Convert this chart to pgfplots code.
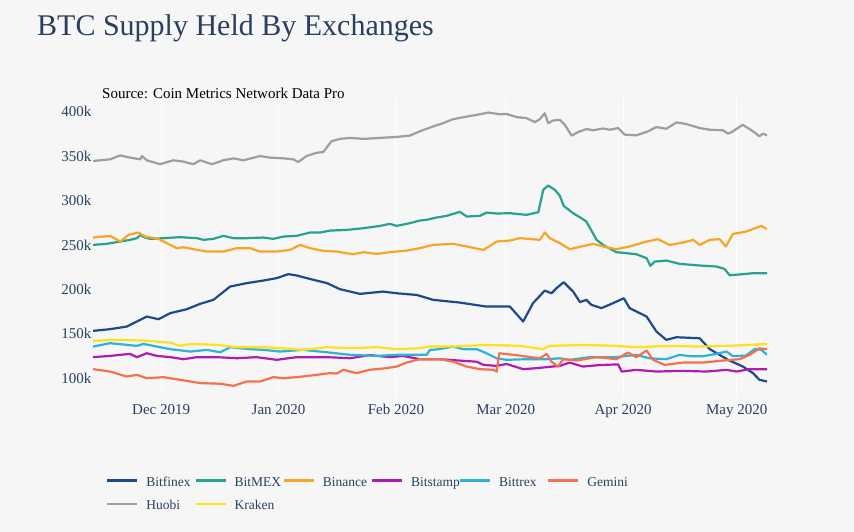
\documentclass[border=0pt]{standalone}
\usepackage{fontspec}
\setmainfont{Liberation Serif}
\usepackage{pgfplots}
\pgfplotsset{compat=1.18}

\definecolor{bgcol}{HTML}{F6F6F6}
\definecolor{txtcol}{HTML}{2A3F5F}
\definecolor{cBitfinex}{HTML}{1D4A8C}
\definecolor{cBitMEX}{HTML}{25A38E}
\definecolor{cBinance}{HTML}{F7A623}
\definecolor{cBitstamp}{HTML}{AD1DB2}
\definecolor{cBittrex}{HTML}{2DB3D8}
\definecolor{cGemini}{HTML}{F5714E}
\definecolor{cHuobi}{HTML}{9E9E9E}
\definecolor{cKraken}{HTML}{FFE01B}

\newcommand{\lab}[1]{\makebox[48bp][l]{\strut #1}}

\begin{document}
\begin{tikzpicture}[x=1bp,y=1bp]
\fill[bgcol] (0,0) rectangle (854,532);

% x = days since 1 Dec 2019, y = thousand BTC
\begin{axis}[
    at={(93bp,136bp)}, anchor=south west,
    scale only axis, width=674bp, height=298.6bp,
    xmin=-18, xmax=160, ymin=80, ymax=416,
    axis line style={draw=none}, major tick length=0pt,
    xtick={0,31,62,91,122,152},
    xticklabels={Dec 2019,Jan 2020,Feb 2020,Mar 2020,Apr 2020,May 2020},
    ytick={100,150,200,250,300,350,400},
    yticklabels={100k,150k,200k,250k,300k,350k,400k},
    xmajorgrids, major grid style={white, line width=1bp},
    tick label style={font=\fontsize{15bp}{18bp}\selectfont, text=txtcol, inner sep=0pt},
    xticklabel style={anchor=north, yshift=-8bp},
    yticklabel style={anchor=east, xshift=-1.5bp},
    every axis plot/.append style={line width=2.2bp, line join=round, no markers},
    legend columns=6,
    legend image code/.code={\draw[#1] (0bp,0bp) -- (30bp,0bp);},
    legend style={draw=none, fill=none, inner sep=0pt,
        at={(axis description cs:0.0193,-0.259)}, anchor=north west,
        font=\fontsize{13.5bp}{18bp}\selectfont, text=txtcol,
        nodes={inner sep=0pt}, row sep=9bp,
        /tikz/every odd column/.append style={column sep=8bp}},
    legend cell align=left,
]
\addplot[cBitfinex] coordinates {
(-18,153.3) (-13.5,155.2) (-9.1,158.1) (-6.4,163.8) (-3.8,169.4) (-0.7,166.4)
(2.4,173.2) (6.8,177.7) (10.3,183.7) (13.8,188.2) (18.2,203.1) (22.6,207)
(27,209.9) (30.5,212.6) (33.6,217.1) (35.8,215.6) (40.2,210.7) (43.8,207)
(47.2,200.2) (52.5,194.9) (58.6,197.5) (62.2,195.6) (67.5,193.7) (71.8,188.2)
(78.9,185.1) (85.9,180.6) (92.1,180.6) (95.6,163.8) (98.2,184.4) (101.3,198.6)
(103.1,195.6) (104.4,201.3) (106.3,208) (108.8,197.5) (110.6,185.6) (112.3,188.2)
(113.6,182.6) (116.3,178.9) (119.3,184.4) (122.2,190) (123.7,178.9) (128.2,169.4)
(130.8,152.5) (133.4,143.2) (136.1,146.1) (142.2,145) (144.9,132.7) (149.7,120.7)
(153.6,113.2) (156.3,105.7) (158,98.2) (160,96.3)
};
\addlegendentry{\lab{Bitfinex}}
\addplot[cBitMEX] coordinates {
(-18,250) (-14.4,251.2) (-10.8,253.8) (-8.2,255.7) (-6.4,257.6) (-5.5,261)
(-4.2,258.3) (-2.9,256.8) (0.6,257.6) (5,258.7) (9.4,257.6) (11.2,255.7)
(13.8,256.8) (16.4,260.2) (19.1,257.6) (22.6,257.6) (27,258.3) (29.6,256.8)
(32.3,259.4) (35.8,260.2) (39.3,263.9) (42,263.9) (44.6,266.1) (49,266.9)
(53.4,268.8) (57.8,271.4) (60.4,273.7) (62.2,271.4) (65.7,274.5) (68.3,277.4)
(70.1,278.2) (72.7,280.8) (75.4,282.7) (77.1,284.9) (78.9,287.2) (80.7,281.9)
(84.2,282.7) (85.9,286.4) (88.6,285.3) (92.1,285.7) (96.5,283.8) (99.6,286.8)
(100.9,311.9) (102.2,316.8) (104,311.9) (105.3,305.2) (106.3,293.9) (108.8,285.7)
(111,280) (112.3,276.2) (115,255.7) (116.7,250) (120.2,241.8) (122.9,240.7)
(125.5,239.5) (128.2,235.1) (129.2,226.4) (130.3,231.2) (133.4,232.4) (136.9,228.7)
(142.2,226.8) (146.6,225.7) (148.8,223) (150.1,215.9) (153.6,217) (156.3,218.2)
(160,218.2)
};
\addlegendentry{\lab{BitMEX}}
\addplot[cBinance] coordinates {
(-18,258.3) (-13.5,260.2) (-10.8,253.8) (-8.6,261.3) (-6,263.9) (-4.2,259.4)
(-0.7,256.8) (2.4,250) (4.1,246.3) (5.9,247.4) (8.5,245.2) (12.1,242.5)
(16.4,242.5) (20,246.3) (23.5,246.3) (26.1,242.5) (30.5,242.5) (34,244.4)
(36.7,250) (39.3,246.3) (42.8,243.3) (46.4,242.5) (50.7,239.5) (53.4,241.8)
(56.9,239.9) (60.4,241.8) (64.8,243.6) (68.3,246.3) (71.8,250) (77.1,251.2)
(80.7,248.2) (85.1,244.4) (88.6,253.8) (92.1,254.9) (94.7,257.6) (100,255.7)
(101.3,263.9) (102.6,257.6) (105.3,252) (107.9,245.2) (111,248.2) (114.1,251.2)
(116.7,248.2) (120.2,245.2) (123.7,248.2) (128.2,253.8) (131.2,256.4) (134.3,250)
(137.8,252.6) (140.5,255.7) (142.2,250) (144.9,255.7) (147.5,256.4) (149.1,248.2)
(151,262.4) (154.5,265) (158.5,271.4) (160,267.7)
};
\addlegendentry{\lab{Binance}}
\addplot[cBitstamp] coordinates {
(-18,123.7) (-13.5,125.1) (-8.2,127.4) (-6.4,123.7) (-3.8,128.1) (-1.1,125.1)
(2.4,123.7) (5.9,121.4) (9.4,123.7) (14.7,123.7) (20,122.5) (25.2,123.7)
(30.5,120.7) (35.8,123.7) (43.8,123.7) (49.9,122.5) (55.1,126) (60.4,123.7)
(63.9,125.1) (68.3,121.4) (73.6,121.4) (78.9,119.8) (83.3,118.6) (85.1,115)
(88.6,113.9) (91.2,116) (95.6,110.2) (99.1,111.3) (103.5,113.2) (105.3,113.9)
(107.9,117.6) (111.4,113.1) (115.8,114.8) (120.7,115.6) (121.6,107.5) (125.5,109.4)
(130.8,107.5) (137.8,108.3) (144,107.5) (149.3,109.4) (151.9,107.5) (155.4,110.2)
(160,110.2)
};
\addlegendentry{\lab{Bitstamp}}
\addplot[cBittrex] coordinates {
(-18,135.6) (-13.5,139.4) (-6.4,136.4) (-4.7,138.6) (2.4,132.7) (7.7,130)
(12.1,131.9) (15.6,129.2) (18.2,134.9) (23.5,132.7) (27,131.9) (31.4,130)
(37.4,131.9) (43.8,129.2) (49.9,126.3) (56.9,125.1) (62.2,126.3) (66.6,126.5)
(70.1,126.3) (71,131.9) (72.7,132.3) (77.1,135.6) (79.8,132.7) (83.3,132.7)
(85.9,128.1) (88.6,122.4) (91.2,120.7) (96.5,121.4) (101.8,121.4) (105.3,122.4)
(107.9,120.7) (113.2,123.7) (120.2,123.7) (125.5,126.3) (129,122.4) (133.4,121.4)
(136.9,126.3) (139.6,124.8) (143.1,124.8) (146.6,127.4) (149.3,130) (151,124.8)
(154.5,125.5) (156.7,132.7) (158.5,132) (160,126.3)
};
\addlegendentry{\lab{Bittrex}}
\addplot[cGemini] coordinates {
(-18,110.2) (-13.5,107.5) (-9.1,101.9) (-6.4,103.8) (-3.8,100) (0.6,101.2)
(5,98.2) (10.3,94.5) (15.6,93.8) (19.1,91.4) (22.6,96.3) (26.1,96.3)
(29.6,101.2) (32.3,100) (35.8,101.2) (41.1,103.8) (44.6,105.7) (46.4,105.3)
(48.1,109.5) (51.6,105.7) (55.1,109.5) (59.5,111.3) (62.2,113.2) (64.8,117.6)
(68.3,121.4) (71,121.4) (73.6,121.4) (77.1,118.6) (80.7,113.1) (84.2,110.2)
(87.7,109.5) (88.6,107.5) (89.3,128.1) (93,126.3) (96.5,124.4) (100,122.4)
(101.8,127.4) (103.1,118.6) (104.8,113.1) (106.2,121.4) (109.7,119.9) (115,123.7)
(120.2,121.4) (123.3,128.9) (125.5,123.7) (128.2,131.1) (129.9,120.7) (133,115)
(137.8,117.6) (143.1,117.6) (148.4,119.9) (152.8,121.4) (155.4,126.3) (158,133.5)
(160,132.7)
};
\addlegendentry{\lab{Gemini}}
\addplot[cHuobi] coordinates {
(-18,344.4) (-13.5,346.3) (-10.8,350.7) (-8.2,348.2) (-5.5,346.3) (-5.1,350)
(-3.8,345.2) (-0.3,340.8) (3.2,345.2) (5.9,343.7) (8.5,340.8) (10.3,345.2)
(13.4,340.8) (16.4,345.2) (19.1,347.4) (21.7,345.2) (26.1,350) (28.8,348.2)
(32.3,347.4) (34.9,346.3) (36.2,343.3) (38.4,350) (41.1,353.7) (42.8,354.5)
(45,366.7) (47.2,369.3) (49.9,370.4) (53.4,369.3) (57.8,370.4) (62.2,371.5)
(65.7,373) (68.3,377.8) (71.8,383.3) (74.5,387) (77.1,391.5) (80.7,394.4)
(83.3,396.3) (86.4,398.9) (89.4,397) (91.2,397.4) (93.9,393.8) (96.5,392.6)
(98.7,388.2) (100,391.5) (101.3,398.2) (102.2,387) (103.5,390) (105.3,390.7)
(106.6,385.2) (108.4,373) (110.1,377) (112.3,380.4) (114.1,379) (116.7,381)
(118.5,379.6) (120.7,381.5) (122.4,374.1) (125.5,373.3) (128.6,377.8) (130.8,382.6)
(133.4,380.7) (136.1,387.8) (138.7,386) (142.2,381.5) (144.9,379.6) (148.4,378.9)
(149.7,375.2) (151,377.8) (153.6,385.2) (156.3,377.8) (158,372.2) (158.9,375.2)
(160,373.3)
};
\addlegendentry{\lab{Huobi}}
\addplot[cKraken] coordinates {
(-18,142) (-12.6,143.2) (-4.7,142.4) (2.4,140.1) (5,136.4) (7.7,138.6)
(14.7,137.5) (20,134.9) (27,134.9) (31.4,133.8) (37.4,131.9) (43.8,134.9)
(49.9,133.8) (56.9,134.9) (62.2,132.7) (68.3,133.8) (71,135.6) (77.1,135.6)
(85.9,137.5) (94.7,136.4) (100.9,132.7) (102.6,136.4) (111.4,137.5) (120.2,136.4)
(125.5,134.9) (134.3,136.4) (142.2,135.6) (149.3,136.4) (155.4,137.5) (160,138.6)
};
\addlegendentry{\lab{Kraken}}
\end{axis}

\node[anchor=base west, inner sep=0pt, text=txtcol,
      font=\fontsize{30bp}{36bp}\selectfont] at (37,496) {BTC Supply Held By Exchanges};
\node[anchor=base west, inner sep=0pt,
      font=\fontsize{15bp}{18bp}\selectfont] at (102,433) {Source: Coin Metrics Network Data Pro};

\pgfresetboundingbox
\useasboundingbox (0,0) rectangle (854,532);
\end{tikzpicture}
\end{document}
